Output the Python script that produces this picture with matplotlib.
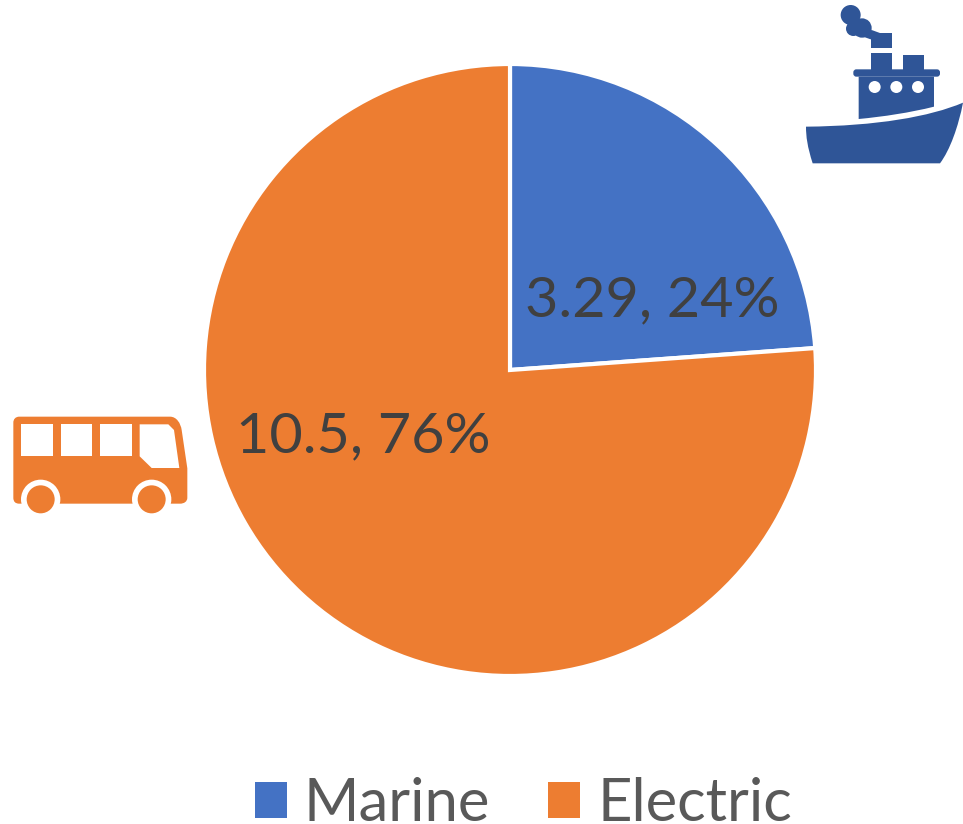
import matplotlib
matplotlib.use('Agg')
import matplotlib.pyplot as plt
from matplotlib.path import Path
from matplotlib.patches import PathPatch, Circle, Rectangle, FancyBboxPatch

plt.rcParams['font.family'] = ['Lato', 'DejaVu Sans']

categories = ['Marine', 'Electric']
values = [3.29, 10.5]
percents = ['24%', '76%']
colors = ['#4472C4', '#ED7D31']
ship_col = '#2F5597'
W, H = 963, 824

fig = plt.figure(figsize=(W/100, H/100), dpi=100)

# pie axes, the white edge eats about 2 px of the radius
cx, cy, r = 510, 370, 306
ax = fig.add_axes([(cx-r)/W, 1-(cy+r)/H, 2*r/W, 2*r/H])
wedges, _ = ax.pie(values, colors=colors, startangle=90, counterclock=False, radius=1,
                   wedgeprops={'edgecolor': 'white', 'linewidth': 3})
ax.set_xlim(-1, 1)
ax.set_ylim(-1, 1)

label_pos = [(0.464, 0.225), (-0.479, -0.219)]
for v, p, (x, y) in zip(values, percents, label_pos):
    ax.text(x, y, f'{v}, {p}', fontsize=41.4, color='#404040', ha='center', va='center')

leg = fig.legend(wedges, categories, loc='center', bbox_to_anchor=(523.5/W, 1-804/H), ncol=2, frameon=False,
                 fontsize=43, labelcolor='#595959', handlelength=0.536, handleheight=0.536,
                 handletextpad=0.28, columnspacing=0.97, borderpad=0)
for h in leg.legend_handles:
    h.set_linewidth(0)

# icons, drawn in pixel coordinates of the picture
ic = fig.add_axes([0, 0, 1, 1], zorder=5)
ic.set_xlim(0, W)
ic.set_ylim(H, 0)
ic.axis('off')


def sx(x):
    return 790 + x/3


def sy(y):
    return y/3


def bx(x):
    return x/3


def by(y):
    return 405 + y/3


def rect(x0, y0, x1, y1, c):
    ic.add_patch(Rectangle((x0, y0), x1-x0, y1-y0, fc=c, ec='none'))


# ship hull
hull = [(48, 380), (260, 378), (420, 350), (519, 308), (505, 380), (480, 450), (450, 490),
        (68, 490), (52, 440), (48, 410), (48, 380)]
hull_codes = [Path.MOVETO, Path.CURVE4, Path.CURVE4, Path.CURVE4, Path.CURVE4, Path.CURVE4, Path.CURVE4,
              Path.LINETO, Path.CURVE4, Path.CURVE4, Path.CURVE4]
ic.add_patch(PathPatch(Path([(sx(x), sy(y)) for x, y in hull], hull_codes), fc=ship_col, ec='none'))
# cabin
cabin = [(206, 230), (432, 230), (432, 320), (360, 338), (280, 350), (206, 357), (206, 230)]
cabin_codes = [Path.MOVETO, Path.LINETO, Path.LINETO, Path.CURVE4, Path.CURVE4, Path.CURVE4, Path.CLOSEPOLY]
ic.add_patch(PathPatch(Path([(sx(x), sy(y)) for x, y in cabin], cabin_codes), fc=ship_col, ec='none'))
ic.add_patch(FancyBboxPatch((sx(190)+3, sy(208)+3), (450-190)/3-6, (230-208)/3-6,
                            boxstyle='round,pad=3', fc=ship_col, ec='none'))
rect(sx(242), sy(160), sx(307), sy(210), ship_col)
rect(sx(338), sy(166), sx(402), sy(210), ship_col)
rect(sx(242), sy(100), sx(307), sy(143), ship_col)
# smoke
for x, y, rad in [(182, 45, 30), (190, 86, 22), (216, 84, 29)]:
    ic.add_patch(Circle((sx(x), sy(y)), rad/3, fc=ship_col, ec='none'))
smoke = [(205, 105), (245, 90), (278, 102), (242, 118)]
ic.fill([sx(x) for x, y in smoke], [sy(y) for x, y in smoke], fc=ship_col, ec='none')
for x in [254, 319, 384]:
    ic.add_patch(Circle((sx(x), sy(261)), 18/3, fc='white', ec='none'))

# bus body
body = [(58, 35), (510, 35), (530, 35), (542, 55), (545, 75), (562, 190), (562, 278),
        (562, 290), (552, 296), (540, 296), (58, 296), (46, 296), (40, 290), (40, 278),
        (40, 53), (40, 42), (47, 35), (58, 35)]
body_codes = [Path.MOVETO, Path.LINETO, Path.CURVE4, Path.CURVE4, Path.CURVE4, Path.LINETO, Path.LINETO,
              Path.CURVE4, Path.CURVE4, Path.CURVE4, Path.LINETO, Path.CURVE4, Path.CURVE4, Path.CURVE4,
              Path.LINETO, Path.CURVE4, Path.CURVE4, Path.CURVE4]
ic.add_patch(PathPatch(Path([(bx(x), by(y)) for x, y in body], body_codes), fc=colors[1], ec='none'))
for x0, x1 in [(63, 158), (182, 277), (300, 396)]:
    rect(bx(x0), by(58), bx(x1), by(154), 'white')
shield = [(419, 58), (505, 58), (522, 75), (538, 189), (455, 189), (419, 154)]
ic.fill([bx(x) for x, y in shield], [by(y) for x, y in shield], fc='white', ec='none')
for x in [122, 455]:
    ic.add_patch(Circle((bx(x), by(283)), 59/3, fc='white', ec='none'))
    ic.add_patch(Circle((bx(x), by(283)), 42/3, fc=colors[1], ec='none'))

fig.savefig('out.png', dpi=100)
